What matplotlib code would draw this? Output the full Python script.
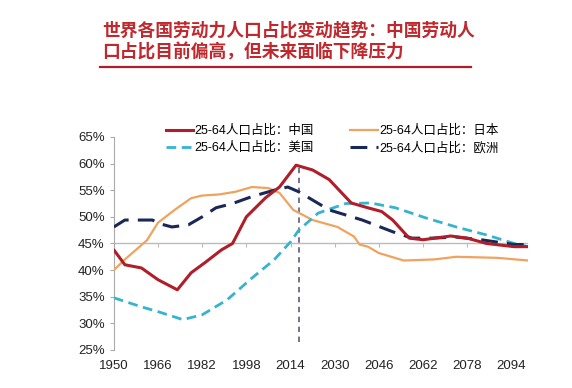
import matplotlib
matplotlib.use("Agg")
import matplotlib.pyplot as plt
from matplotlib.lines import Line2D

plt.rcParams["font.family"] = ["Liberation Sans", "Noto Sans CJK SC", "DejaVu Sans"]

TITLE = "世界各国劳动力人口占比变动趋势：中国劳动人\n口占比目前偏高，但未来面临下降压力"

china_years = [1950, 1954, 1960, 1966, 1973, 1978, 1983, 1989, 1993, 1998, 2005, 2010,
               2016, 2022, 2028, 2036, 2042, 2047, 2051, 2057, 2062, 2072, 2078, 2085, 2095, 2100]
china_vals = [43.8, 41.0, 40.4, 38.2, 36.3, 39.5, 41.4, 43.8, 45.0, 50.0, 53.6, 55.6,
              59.7, 58.8, 57.0, 52.6, 51.7, 51.0, 49.4, 46.0, 45.7, 46.4, 46.0, 45.0, 44.4, 44.4]

japan_years = [1950, 1954, 1962, 1966, 1972, 1978, 1982, 1988, 1994, 2000, 2006, 2010,
               2015, 2022, 2031, 2037, 2039, 2042, 2046, 2055, 2066, 2074, 2089, 2100]
japan_vals = [40.0, 42.0, 45.6, 48.9, 51.3, 53.5, 54.0, 54.2, 54.7, 55.6, 55.4, 54.5,
              51.3, 49.4, 48.1, 46.3, 44.8, 44.4, 43.2, 41.8, 42.0, 42.5, 42.3, 41.8]

usa_years = [1950, 1960, 1966, 1975, 1982, 1991, 2000, 2008, 2014, 2017, 2024, 2034,
             2043, 2052, 2063, 2074, 2085, 2095, 2100]
usa_vals = [34.8, 33.1, 32.2, 30.7, 31.6, 34.4, 38.5, 41.9, 45.3, 47.5, 50.7, 52.5,
            52.6, 51.7, 49.8, 48.1, 46.6, 45.0, 44.4]

europe_years = [1950, 1954, 1959, 1964, 1966, 1971, 1977, 1982, 1987, 1993, 2000, 2008,
                2013, 2017, 2028, 2040, 2051, 2058, 2065, 2074, 2083, 2095, 2100]
europe_vals = [48.1, 49.4, 49.4, 49.4, 48.8, 48.1, 48.5, 50.0, 51.7, 52.5, 53.8, 55.0,
               55.6, 54.7, 51.3, 49.4, 47.2, 46.0, 46.0, 46.2, 45.7, 44.8, 44.8]

labels = ["25-64人口占比：中国", "25-64人口占比：美国", "25-64人口占比：日本", "25-64人口占比：欧洲"]
x_ticks = [1950, 1966, 1982, 1998, 2014, 2030, 2046, 2062, 2078, 2094]
y_ticks = [25, 30, 35, 40, 45, 50, 55, 60, 65]
now_year = 2017
now_span = (26.5, 59.7)
cross_at = 45

fig = plt.figure(figsize=(5.72, 3.88), dpi=100)
ax = fig.add_axes([0.199, 0.098, 0.724, 0.549])

ax.plot(china_years, china_vals, color="#B01E2A", lw=2.2, solid_capstyle="round", zorder=5)
ax.plot(japan_years, japan_vals, color="#F0A35E", lw=1.6, zorder=3)
ax.plot(usa_years, usa_vals, color="#36B4CE", lw=2.0, dashes=(3.5, 2), zorder=4)
ax.plot(europe_years, europe_vals, color="#1B2857", lw=2.2, dashes=(5.5, 3), zorder=4)

ax.vlines(now_year, *now_span, colors="#6E6585", linestyles=(0, (3, 2.5)), lw=1.3, zorder=2)
ax.axhline(cross_at, color="#BBBBBB", lw=1.0, zorder=1)

ax.set_xlim(1950, 2100)
ax.set_ylim(25, 65)
ax.set_yticks(y_ticks)
ax.set_yticklabels([f"{v}%" for v in y_ticks], fontsize=9.5, color="#222222")
ax.set_xticks(x_ticks)
ax.set_xticklabels([str(v) for v in x_ticks], fontsize=9.5, color="#222222")
ax.tick_params(axis="x", length=0, pad=7)
ax.tick_params(axis="y", length=3, color="#AAAAAA", direction="out")

for side in ["top", "right", "bottom"]:
    ax.spines[side].set_visible(False)
ax.spines["left"].set_color("#AAAAAA")

# tick marks on the horizontal axis crossing at 45%
mid = ax.secondary_xaxis((cross_at - 25) / 40)
mid.set_xticks(x_ticks)
mid.set_xticklabels([])
mid.tick_params(direction="in", length=3, color="#BBBBBB")
for sp in mid.spines.values():
    sp.set_visible(False)

handles = [
    Line2D([], [], color="#B01E2A", lw=2.2),
    Line2D([], [], color="#36B4CE", lw=2.0, dashes=(3.5, 2)),
    Line2D([], [], color="#F0A35E", lw=1.6),
    Line2D([], [], color="#1B2857", lw=2.2, dashes=(5.5, 3)),
]
fig.legend(handles, labels, ncol=2, loc="upper left", bbox_to_anchor=(0.29, 0.678),
           frameon=False, fontsize=9, handlelength=2.2, handletextpad=0.1,
           columnspacing=2.9, labelspacing=0.35, borderpad=0, borderaxespad=0)

fig.text(0.178, 0.945, TITLE, fontsize=12.8, color="#C0282D", fontweight="bold",
         family=["Noto Sans CJK SC"], va="top", ha="left", linespacing=1.25)
fig.add_artist(Line2D([0.175, 0.823], [0.828, 0.828], color="#B01E2A", lw=1.6,
                      transform=fig.transFigure))

fig.savefig("out.png", dpi=100, facecolor="white")
